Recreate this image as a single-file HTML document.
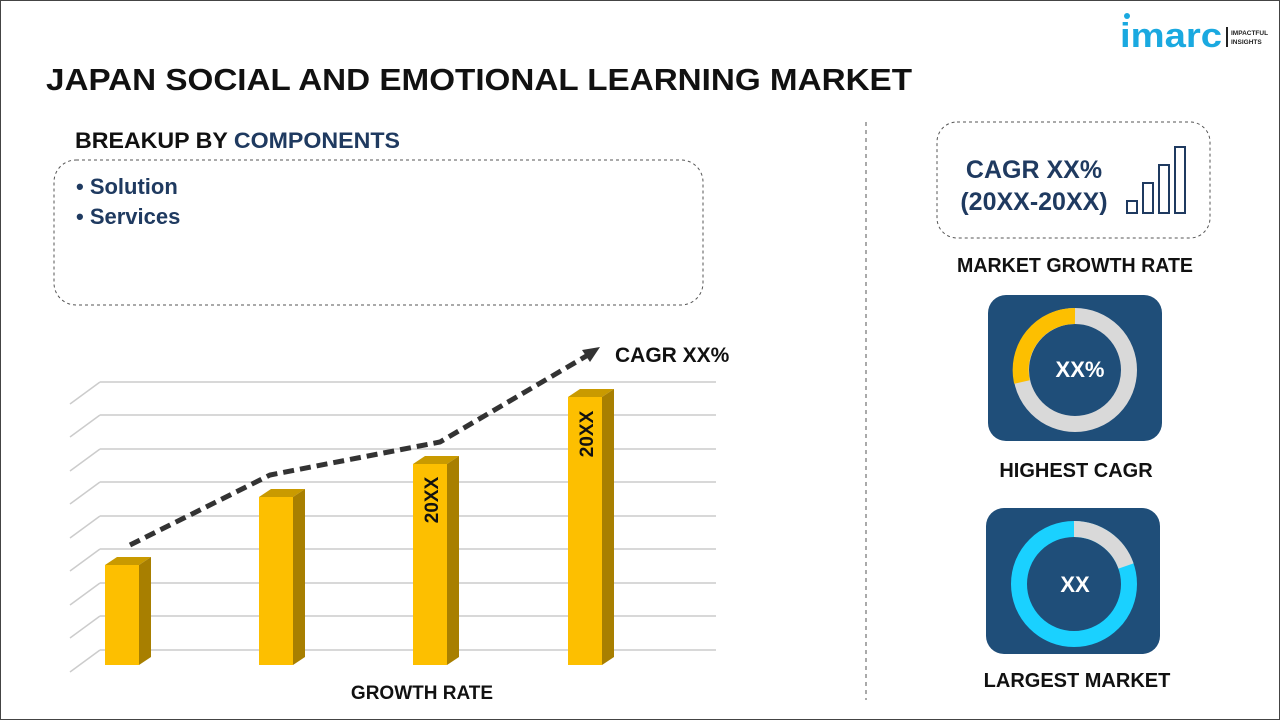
<!DOCTYPE html>
<html><head><meta charset="utf-8"><style>
body{margin:0;width:1280px;height:720px;overflow:hidden;background:#fff;font-family:"Liberation Sans",Arial,sans-serif}
</style></head><body>
<svg width="1280" height="720" viewBox="0 0 1280 720" xmlns="http://www.w3.org/2000/svg" font-family="Liberation Sans, Arial, sans-serif">
<rect x="0.5" y="0.5" width="1279" height="719" fill="#fff" stroke="#444" stroke-width="1"/>
<!-- logo -->
<circle cx="1127" cy="16" r="3" fill="#1aa9e0"/>
<text x="1120" y="47" font-size="34" font-weight="bold" fill="#1aa9e0" textLength="102" lengthAdjust="spacingAndGlyphs">imarc</text>
<rect x="1226" y="27" width="2" height="20" fill="#222"/>
<text x="1231" y="35" font-size="6.5" font-weight="bold" fill="#222">IMPACTFUL</text>
<text x="1231" y="44" font-size="6.5" font-weight="bold" fill="#222">INSIGHTS</text>
<text x="46" y="90" font-size="31" font-weight="bold" fill="#111" textLength="866" lengthAdjust="spacingAndGlyphs">JAPAN SOCIAL AND EMOTIONAL LEARNING MARKET</text>
<text x="75" y="148" font-size="22" font-weight="bold" fill="#111" textLength="325" lengthAdjust="spacingAndGlyphs">BREAKUP BY <tspan fill="#1f3a60">COMPONENTS</tspan></text>
<rect x="54" y="160" width="649" height="145" rx="22" fill="none" stroke="#555" stroke-dasharray="3,3"/>
<text x="76" y="194" font-size="22" font-weight="bold" fill="#1f3a60">• Solution</text>
<text x="76" y="224" font-size="22" font-weight="bold" fill="#1f3a60">• Services</text>
<line x1="866" y1="122" x2="866" y2="700" stroke="#555" stroke-dasharray="4,4"/>
<!-- grid -->
<g stroke="#ccc" stroke-width="1.5" fill="none">
<path d="M100 382H716M70 404L100 382"/><path d="M100 415H716M70 437L100 415"/><path d="M100 449H716M70 471L100 449"/>
<path d="M100 482H716M70 504L100 482"/><path d="M100 516H716M70 538L100 516"/><path d="M100 549H716M70 571L100 549"/>
<path d="M100 583H716M70 605L100 583"/><path d="M100 616H716M70 638L100 616"/><path d="M100 650H716M70 672L100 650"/>
</g>
<!-- bars -->
<g>
<polygon points="105,565 117,557 151,557 139,565" fill="#c99a00"/><polygon points="139,565 151,557 151,657 139,665" fill="#a87f00"/><rect x="105" y="565" width="34" height="100" fill="#fdbf00"/>
<polygon points="259,497 271,489 305,489 293,497" fill="#c99a00"/><polygon points="293,497 305,489 305,657 293,665" fill="#a87f00"/><rect x="259" y="497" width="34" height="168" fill="#fdbf00"/>
<polygon points="413,464 425,456 459,456 447,464" fill="#c99a00"/><polygon points="447,464 459,456 459,657 447,665" fill="#a87f00"/><rect x="413" y="464" width="34" height="201" fill="#fdbf00"/>
<polygon points="568,397 580,389 614,389 602,397" fill="#c99a00"/><polygon points="602,397 614,389 614,657 602,665" fill="#a87f00"/><rect x="568" y="397" width="34" height="268" fill="#fdbf00"/>
</g>
<text transform="translate(438,500) rotate(-90)" font-size="19" font-weight="bold" fill="#111" text-anchor="middle">20XX</text>
<text transform="translate(593,434) rotate(-90)" font-size="19" font-weight="bold" fill="#111" text-anchor="middle">20XX</text>
<polyline points="130,545 270,475 440,442 588,355" fill="none" stroke="#333" stroke-width="5" stroke-dasharray="11,6"/>
<polygon points="600,347 582,350 590,362" fill="#333"/>
<text x="615" y="362" font-size="21" font-weight="bold" fill="#111">CAGR XX%</text>
<text x="422" y="699" font-size="19" font-weight="bold" fill="#111" text-anchor="middle">GROWTH RATE</text>
<!-- right -->
<rect x="937" y="122" width="273" height="116" rx="20" fill="none" stroke="#555" stroke-dasharray="3,3"/>
<text x="1034" y="178" font-size="25" font-weight="bold" fill="#1f3a60" text-anchor="middle">CAGR XX%</text>
<text x="1034" y="210" font-size="25" font-weight="bold" fill="#1f3a60" text-anchor="middle">(20XX-20XX)</text>
<g fill="none" stroke="#1f3a60" stroke-width="2">
<rect x="1127" y="201" width="10" height="12"/><rect x="1143" y="183" width="10" height="30"/><rect x="1159" y="165" width="10" height="48"/><rect x="1175" y="147" width="10" height="66"/>
</g>
<text x="957" y="272" font-size="20" font-weight="bold" fill="#111" textLength="236" lengthAdjust="spacingAndGlyphs">MARKET GROWTH RATE</text>
<rect x="988" y="295" width="174" height="146" rx="18" fill="#1f4e79"/>
<circle cx="1075" cy="370" r="54" fill="none" stroke="#d9d9d9" stroke-width="16"/>
<path d="M1075 316 A54 54 0 0 0 1022 382" fill="none" stroke="#fdbf00" stroke-width="16"/>
<text x="1080" y="377" font-size="22" font-weight="bold" fill="#fff" text-anchor="middle">XX%</text>
<text x="1076" y="477" font-size="20" font-weight="bold" fill="#111" text-anchor="middle">HIGHEST CAGR</text>
<rect x="986" y="508" width="174" height="146" rx="18" fill="#1f4e79"/>
<circle cx="1074" cy="584" r="55" fill="none" stroke="#1ad1ff" stroke-width="16"/>
<path d="M1074 529 A55 55 0 0 1 1126 566" fill="none" stroke="#d9d9d9" stroke-width="16"/>
<text x="1075" y="592" font-size="22" font-weight="bold" fill="#fff" text-anchor="middle">XX</text>
<text x="1077" y="687" font-size="20" font-weight="bold" fill="#111" text-anchor="middle">LARGEST MARKET</text>
</svg>
</body></html>
